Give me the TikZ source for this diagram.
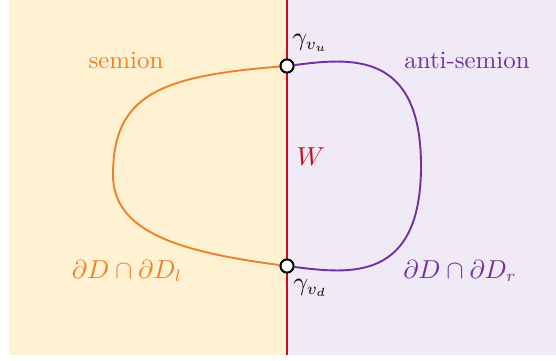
\documentclass[tikz,border=0pt]{standalone}
\usepackage{amsmath}
\definecolor{yelbg}{RGB}{255,242,210}
\definecolor{purbg}{RGB}{240,234,247}
\definecolor{orng}{RGB}{240,128,40}
\definecolor{purp}{RGB}{112,48,160}
\definecolor{wred}{RGB}{192,16,32}
\tikzset{
  vert/.style={circle,draw=black,fill=white,line width=0.8pt,minimum size=5.5pt,inner sep=0pt},
  curveL/.style={draw=orng,line width=0.8pt},
  curveR/.style={draw=purp,line width=0.8pt},
  lblL/.style={text=orng,inner sep=0pt},
  lblR/.style={text=purp,inner sep=0pt},
  lblK/.style={text=black,inner sep=0pt,anchor=west}
}
\begin{document}
\begin{tikzpicture}[x=0.422pt,y=-0.422pt,font=\fontsize{10.5}{12.5}\selectfont]
\useasboundingbox (0,0) rectangle (556,360);
\fill[yelbg] (9,0) rectangle (287,355);
\fill[purbg] (287,0) rectangle (556,355);
\coordinate (wt) at (287,0);
\coordinate (wb) at (287,355);
\draw[wred,line width=0.8pt] (wt) -- (wb);
\node[vert] (vu) at (287,66) {};
\node[vert] (vd) at (287,266) {};
\coordinate (lm) at (113,175);
\coordinate (rm) at (421,166);
\draw[curveL] (vu) .. controls (160,76) and (113,95) .. (lm)
  .. controls (113,232) and (180,252) .. (vd);
\draw[curveR] (vu) .. controls (350,58) and (421,50) .. (rm)
  .. controls (421,282) and (350,274) .. (vd);
\node[vert] at (vu) {};
\node[vert] at (vd) {};
\node[lblL] (sem) at (126,60) {semion};
\node[lblR] (asem) at (467,60) {anti-semion};
\node[lblK] (gu) at (292,43) {$\gamma_{v_u}$};
\node[lblK] (gd) at (293,288) {$\gamma_{v_d}$};
\node[text=wred,inner sep=0pt] (W) at (311,157) {$W$};
\node[lblL] (dl) at (127,271) {$\partial D\cap\partial D_l$};
\node[lblR] (dr) at (460,271) {$\partial D\cap\partial D_r$};
\end{tikzpicture}
\end{document}
